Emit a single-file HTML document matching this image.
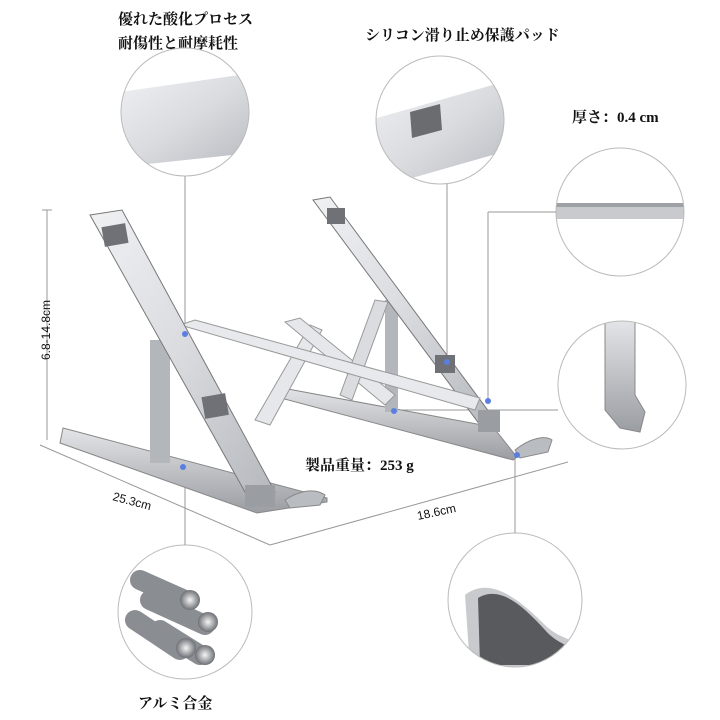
<!DOCTYPE html>
<html><head><meta charset="utf-8"><style>
body{margin:0;background:#fff;width:720px;height:720px;overflow:hidden}
svg{display:block}
text{font-family:"Liberation Serif","Noto Serif CJK SC",serif;font-weight:bold;fill:#111}
.s{font-family:"Liberation Sans",sans-serif;font-weight:normal}
</style></head><body>
<svg width="720" height="720" viewBox="0 0 720 720" xmlns="http://www.w3.org/2000/svg">
<defs>
<linearGradient id="al" x1="0" y1="0" x2="1" y2="1"><stop offset="0" stop-color="#f0f1f3"/><stop offset="0.5" stop-color="#d9dbdf"/><stop offset="1" stop-color="#b5b8bd"/></linearGradient>
<linearGradient id="al2" x1="0" y1="0" x2="0" y2="1"><stop offset="0" stop-color="#e4e5e8"/><stop offset="1" stop-color="#9a9da2"/></linearGradient>
<radialGradient id="rod"><stop offset="0" stop-color="#f5f5f5"/><stop offset="1" stop-color="#6d7075"/></radialGradient>
<clipPath id="c1"><circle cx="185" cy="112" r="64"/></clipPath>
<clipPath id="c2"><circle cx="440" cy="120" r="64"/></clipPath>
<clipPath id="c3"><circle cx="620" cy="212" r="64"/></clipPath>
<clipPath id="c4"><circle cx="622" cy="385" r="64"/></clipPath>
<clipPath id="c5"><circle cx="515" cy="600" r="67"/></clipPath>
<clipPath id="c6"><circle cx="185" cy="612" r="67"/></clipPath>
</defs>

<text x="118" y="24" font-size="15">優れた酸化プロセス</text>
<text x="118" y="48" font-size="15">耐傷性と耐摩耗性</text>
<text x="365" y="40" font-size="15">シリコン滑り止め保護パッド</text>
<text x="572" y="122" font-size="15">厚さ：0.4 cm</text>
<text x="305" y="470" font-size="15">製品重量：253 g</text>
<text x="138" y="708" font-size="15">アルミ合金</text>

<g clip-path="url(#c1)"><rect x="110" y="40" width="150" height="150" fill="#fff"/>
<polygon points="120,92 260,72 260,152 120,167" fill="url(#al)"/></g>
<circle cx="185" cy="112" r="64" fill="none" stroke="#bbb"/>
<g clip-path="url(#c2)"><rect x="370" y="50" width="150" height="150" fill="#fff"/>
<polygon points="370,120 510,80 510,150 370,190" fill="url(#al)"/>
<polygon points="410,112 440,104 442,130 412,138" fill="#6a6c70"/></g>
<circle cx="440" cy="120" r="64" fill="none" stroke="#bbb"/>
<g clip-path="url(#c3)"><rect x="550" y="140" width="150" height="150" fill="#fff"/>
<rect x="550" y="203" width="150" height="16" fill="#c8cace"/><rect x="550" y="203" width="150" height="4" fill="#9ea1a6"/></g>
<circle cx="620" cy="212" r="64" fill="none" stroke="#bbb"/>
<g clip-path="url(#c4)"><rect x="555" y="320" width="140" height="140" fill="#fff"/>
<polygon points="605,320 635,320 635,395 645,412 640,432 620,428 605,410" fill="url(#al2)" stroke="#888"/></g>
<circle cx="622" cy="385" r="64" fill="none" stroke="#bbb"/>
<g clip-path="url(#c5)"><rect x="445" y="530" width="140" height="140" fill="#fff"/>
<path d="M465,595 C490,575 520,600 545,625 C565,645 595,640 600,665 L470,668 Z" fill="#c8cace"/>
<path d="M478,598 C500,585 522,605 545,630 C560,648 585,648 585,665 L480,665 Z" fill="#585a5e"/></g>
<circle cx="515" cy="600" r="67" fill="none" stroke="#bbb"/>
<g clip-path="url(#c6)"><rect x="115" y="545" width="140" height="140" fill="#fff"/>
<g stroke="#8a8d92" stroke-width="20" stroke-linecap="round">
<line x1="140" y1="580" x2="185" y2="600"/><line x1="150" y1="600" x2="205" y2="625"/><line x1="135" y1="620" x2="180" y2="650"/><line x1="160" y1="630" x2="200" y2="655"/></g>
<circle cx="190" cy="600" r="10" fill="url(#rod)"/><circle cx="208" cy="622" r="10" fill="url(#rod)"/><circle cx="186" cy="648" r="10" fill="url(#rod)"/><circle cx="205" cy="655" r="10" fill="url(#rod)"/></g>
<circle cx="185" cy="612" r="67" fill="none" stroke="#bbb"/>

<g stroke="#999" stroke-width="1" fill="none">
<line x1="185" y1="176" x2="185" y2="333"/>
<line x1="447" y1="184" x2="447" y2="360"/>
<line x1="488" y1="212" x2="556" y2="212"/><line x1="488" y1="212" x2="488" y2="400"/>
<line x1="393" y1="410" x2="558" y2="410"/>
<line x1="515" y1="455" x2="515" y2="533"/>
<line x1="185" y1="465" x2="185" y2="545"/>
<line x1="47" y1="210" x2="47" y2="440"/><line x1="42" y1="210" x2="52" y2="210"/>
<line x1="40" y1="445" x2="270" y2="545"/>
<line x1="270" y1="545" x2="568" y2="462"/>
</g>
<text class="s" x="40" y="340" font-size="12" transform="rotate(-90 40 330)" text-anchor="middle">6.8-14.8cm</text>
<text class="s" x="112" y="500" font-size="12" transform="rotate(15 112 500)">25.3cm</text>
<text class="s" x="418" y="520" font-size="12" transform="rotate(-12 418 520)">18.6cm</text>

<!-- stand -->
<polygon points="277,387 493,427 517,457 513,460 277,397" fill="url(#al2)" stroke="#888"/>
<rect x="385" y="300" width="13" height="112" fill="#b3b6bb"/>
<polygon points="313,200 330,197 495,420 480,425" fill="url(#al)" stroke="#777"/>
<rect x="478" y="410" width="22" height="22" fill="#9a9da2"/>
<polygon points="255,420 310,325 322,330 270,425" fill="#e6e7ea" stroke="#999"/>
<polygon points="285,322 300,318 395,395 385,405" fill="#e6e7ea" stroke="#999"/>
<polygon points="340,395 375,300 388,302 352,400" fill="#dadcdf" stroke="#999"/>
<polygon points="63,428 327,498 327,502 257,513 60,443" fill="url(#al2)" stroke="#888"/>
<rect x="150" y="340" width="20" height="123" fill="#b3b6bb"/>
<polygon points="180,325 195,320 480,398 475,410" fill="#e8e9ec" stroke="#999"/>
<polygon points="90,215 122,210 275,492 245,492" fill="url(#al)" stroke="#777"/>
<rect x="245" y="485" width="30" height="22" fill="#9a9da2"/>
<path d="M285,500 C300,490 315,488 325,495 L320,505 L290,508 Z" fill="#b9bcc1" stroke="#888"/>
<path d="M515,450 C530,438 545,435 552,440 L548,452 L520,458 Z" fill="#b9bcc1" stroke="#888"/>
<rect x="103" y="225" width="24" height="20" fill="#6f7176" transform="rotate(-10 115 235)"/>
<rect x="203" y="395" width="24" height="22" fill="#6f7176" transform="rotate(-10 215 405)"/>
<rect x="327" y="208" width="18" height="16" fill="#6f7176"/>
<rect x="435" y="355" width="20" height="18" fill="#6f7176"/>
<g fill="#5b7fe0"><circle cx="185" cy="334" r="3"/><circle cx="447" cy="362" r="3"/><circle cx="488" cy="401" r="3"/><circle cx="394" cy="411" r="3"/><circle cx="517" cy="455" r="3"/><circle cx="183" cy="467" r="3"/></g>
</svg>
</body></html>
